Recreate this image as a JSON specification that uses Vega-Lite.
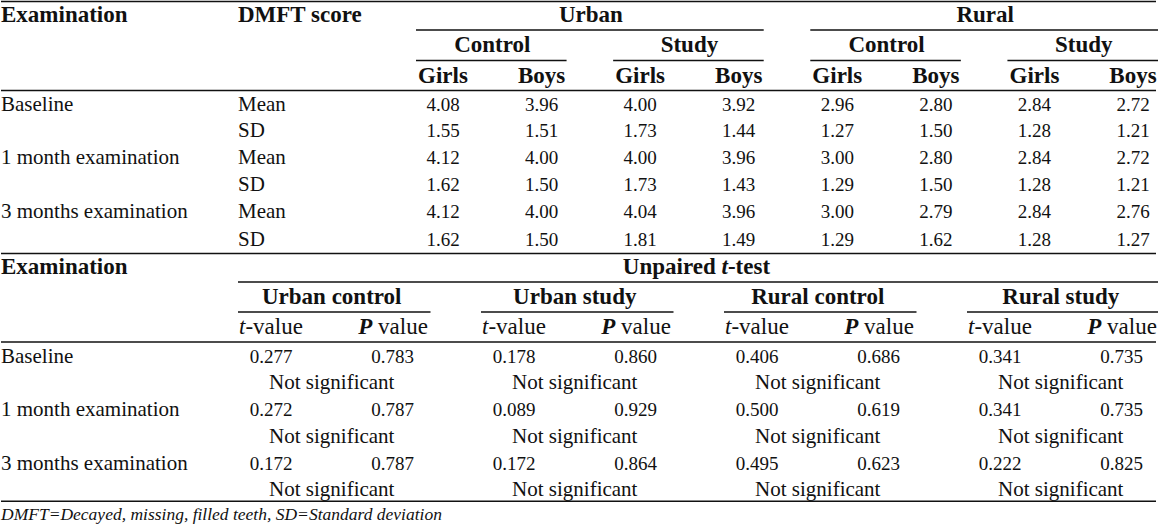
{
  "$schema": "https://vega.github.io/schema/vega-lite/v6.json",
  "width": 1158,
  "height": 526,
  "autosize": {"type": "fit", "contains": "padding"},
  "padding": 0,
  "background": "#ffffff",
  "config": {"font": "Liberation Serif", "view": {"stroke": null}, "text": {"font": "Liberation Serif", "color": "#111111", "baseline": "middle"}},
  "datasets": {
    "topHead": [
      {"r": 0, "c": 3.5, "t": "Urban"}, {"r": 0, "c": 7.5, "t": "Rural"},
      {"r": 1, "c": 2.5, "t": "Control"}, {"r": 1, "c": 4.5, "t": "Study"},
      {"r": 1, "c": 6.5, "t": "Control"}, {"r": 1, "c": 8.5, "t": "Study"},
      {"r": 2, "c": 2, "t": "Girls"}, {"r": 2, "c": 3, "t": "Boys"},
      {"r": 2, "c": 4, "t": "Girls"}, {"r": 2, "c": 5, "t": "Boys"},
      {"r": 2, "c": 6, "t": "Girls"}, {"r": 2, "c": 7, "t": "Boys"},
      {"r": 2, "c": 8, "t": "Girls"}, {"r": 2, "c": 9, "t": "Boys"}
    ],
    "leftBold": [
      {"r": 0, "c": 0, "t": "Examination"}, {"r": 0, "c": 1, "t": "DMFT score"},
      {"r": 9, "c": 0, "t": "Examination"}
    ],
    "leftText": [
      {"r": 3, "c": 0, "t": "Baseline"}, {"r": 3, "c": 1, "t": "Mean"}, {"r": 4, "c": 1, "t": "SD"},
      {"r": 5, "c": 0, "t": "1 month examination"}, {"r": 5, "c": 1, "t": "Mean"}, {"r": 6, "c": 1, "t": "SD"},
      {"r": 7, "c": 0, "t": "3 months examination"}, {"r": 7, "c": 1, "t": "Mean"}, {"r": 8, "c": 1, "t": "SD"},
      {"r": 12, "c": 0, "t": "Baseline"}, {"r": 14, "c": 0, "t": "1 month examination"},
      {"r": 16, "c": 0, "t": "3 months examination"}
    ],
    "topVals": [
      {"r": 3, "c": 2, "t": "4.08"}, {"r": 3, "c": 3, "t": "3.96"}, {"r": 3, "c": 4, "t": "4.00"}, {"r": 3, "c": 5, "t": "3.92"},
      {"r": 3, "c": 6, "t": "2.96"}, {"r": 3, "c": 7, "t": "2.80"}, {"r": 3, "c": 8, "t": "2.84"}, {"r": 3, "c": 9, "t": "2.72"},
      {"r": 4, "c": 2, "t": "1.55"}, {"r": 4, "c": 3, "t": "1.51"}, {"r": 4, "c": 4, "t": "1.73"}, {"r": 4, "c": 5, "t": "1.44"},
      {"r": 4, "c": 6, "t": "1.27"}, {"r": 4, "c": 7, "t": "1.50"}, {"r": 4, "c": 8, "t": "1.28"}, {"r": 4, "c": 9, "t": "1.21"},
      {"r": 5, "c": 2, "t": "4.12"}, {"r": 5, "c": 3, "t": "4.00"}, {"r": 5, "c": 4, "t": "4.00"}, {"r": 5, "c": 5, "t": "3.96"},
      {"r": 5, "c": 6, "t": "3.00"}, {"r": 5, "c": 7, "t": "2.80"}, {"r": 5, "c": 8, "t": "2.84"}, {"r": 5, "c": 9, "t": "2.72"},
      {"r": 6, "c": 2, "t": "1.62"}, {"r": 6, "c": 3, "t": "1.50"}, {"r": 6, "c": 4, "t": "1.73"}, {"r": 6, "c": 5, "t": "1.43"},
      {"r": 6, "c": 6, "t": "1.29"}, {"r": 6, "c": 7, "t": "1.50"}, {"r": 6, "c": 8, "t": "1.28"}, {"r": 6, "c": 9, "t": "1.21"},
      {"r": 7, "c": 2, "t": "4.12"}, {"r": 7, "c": 3, "t": "4.00"}, {"r": 7, "c": 4, "t": "4.04"}, {"r": 7, "c": 5, "t": "3.96"},
      {"r": 7, "c": 6, "t": "3.00"}, {"r": 7, "c": 7, "t": "2.79"}, {"r": 7, "c": 8, "t": "2.84"}, {"r": 7, "c": 9, "t": "2.76"},
      {"r": 8, "c": 2, "t": "1.62"}, {"r": 8, "c": 3, "t": "1.50"}, {"r": 8, "c": 4, "t": "1.81"}, {"r": 8, "c": 5, "t": "1.49"},
      {"r": 8, "c": 6, "t": "1.29"}, {"r": 8, "c": 7, "t": "1.62"}, {"r": 8, "c": 8, "t": "1.28"}, {"r": 8, "c": 9, "t": "1.27"}
    ],
    "topRules": [
      {"r": 0.5, "c1": 2, "c2": 5}, {"r": 0.5, "c1": 6, "c2": 9},
      {"r": 1.5, "c1": 2, "c2": 3}, {"r": 1.5, "c1": 4, "c2": 5},
      {"r": 1.5, "c1": 6, "c2": 7}, {"r": 1.5, "c1": 8, "c2": 9}
    ],
    "fullRules": [{"r": -0.45}, {"r": 2.5}, {"r": 8.5}, {"r": 11.5}, {"r": 17.45}],
    "botHead": [
      {"r": 10, "c": 1.5, "t": "Urban control"}, {"r": 10, "c": 3.5, "t": "Urban study"},
      {"r": 10, "c": 5.5, "t": "Rural control"}, {"r": 10, "c": 7.5, "t": "Rural study"}
    ],
    "unpaired": [{"r": 9, "c": 4.5}],
    "tAnchors": [{"r": 11, "c": 1}, {"r": 11, "c": 3}, {"r": 11, "c": 5}, {"r": 11, "c": 7}],
    "pAnchors": [{"r": 11, "c": 2}, {"r": 11, "c": 4}, {"r": 11, "c": 6}, {"r": 11, "c": 8}],
    "botVals": [
      {"r": 12, "c": 1, "t": "0.277"}, {"r": 12, "c": 2, "t": "0.783"}, {"r": 12, "c": 3, "t": "0.178"}, {"r": 12, "c": 4, "t": "0.860"},
      {"r": 12, "c": 5, "t": "0.406"}, {"r": 12, "c": 6, "t": "0.686"}, {"r": 12, "c": 7, "t": "0.341"}, {"r": 12, "c": 8, "t": "0.735"},
      {"r": 14, "c": 1, "t": "0.272"}, {"r": 14, "c": 2, "t": "0.787"}, {"r": 14, "c": 3, "t": "0.089"}, {"r": 14, "c": 4, "t": "0.929"},
      {"r": 14, "c": 5, "t": "0.500"}, {"r": 14, "c": 6, "t": "0.619"}, {"r": 14, "c": 7, "t": "0.341"}, {"r": 14, "c": 8, "t": "0.735"},
      {"r": 16, "c": 1, "t": "0.172"}, {"r": 16, "c": 2, "t": "0.787"}, {"r": 16, "c": 3, "t": "0.172"}, {"r": 16, "c": 4, "t": "0.864"},
      {"r": 16, "c": 5, "t": "0.495"}, {"r": 16, "c": 6, "t": "0.623"}, {"r": 16, "c": 7, "t": "0.222"}, {"r": 16, "c": 8, "t": "0.825"}
    ],
    "notSig": [
      {"r": 13, "c": 1.5, "t": "Not significant"}, {"r": 13, "c": 3.5, "t": "Not significant"},
      {"r": 13, "c": 5.5, "t": "Not significant"}, {"r": 13, "c": 7.5, "t": "Not significant"},
      {"r": 15, "c": 1.5, "t": "Not significant"}, {"r": 15, "c": 3.5, "t": "Not significant"},
      {"r": 15, "c": 5.5, "t": "Not significant"}, {"r": 15, "c": 7.5, "t": "Not significant"},
      {"r": 17, "c": 1.5, "t": "Not significant"}, {"r": 17, "c": 3.5, "t": "Not significant"},
      {"r": 17, "c": 5.5, "t": "Not significant"}, {"r": 17, "c": 7.5, "t": "Not significant"}
    ],
    "botRules": [
      {"r": 9.5, "c1": 1, "c2": 8},
      {"r": 10.5, "c1": 1, "c2": 2}, {"r": 10.5, "c1": 3, "c2": 4},
      {"r": 10.5, "c1": 5, "c2": 6}, {"r": 10.5, "c1": 7, "c2": 8}
    ],
    "note": [{"r": 18, "c": 0, "t": "DMFT=Decayed, missing, filled teeth, SD=Standard deviation"}]
  },
  "layer": [
    {
      "data": {"name": "fullRules"},
      "mark": {"type": "rule", "color": "#111111", "strokeWidth": 1.5},
      "encoding": {
        "y": {"field": "r", "type": "quantitative", "axis": null,
              "scale": {"domain": [0,1,2,3,4,5,6,7,8,9,10,11,12,13,14,15,16,17,18], "range": [15,45,76,105,131,158,185,212,240,267,297,327,357,383,410,437,464,490,515], "nice": false, "zero": false}}
      }
    },
    {
      "data": {"name": "topRules"},
      "mark": {"type": "rule", "color": "#111111", "strokeWidth": 1.5, "xOffset": -27, "x2Offset": 25},
      "encoding": {
        "x": {"field": "c1", "type": "quantitative", "axis": null, "scale": {"domain": [0,1,2,9], "range": [0,237,442,1132], "nice": false, "zero": false}},
        "x2": {"field": "c2"},
        "y": {"field": "r", "type": "quantitative", "axis": null}
      }
    },
    {
      "data": {"name": "botRules"},
      "mark": {"type": "rule", "color": "#111111", "strokeWidth": 1.5, "xOffset": -33, "x2Offset": 38},
      "encoding": {
        "x": {"field": "c1", "type": "quantitative", "axis": null, "scale": {"domain": [0,1,8], "range": [0,270,1120.5], "nice": false, "zero": false}},
        "x2": {"field": "c2"},
        "y": {"field": "r", "type": "quantitative", "axis": null}
      }
    },
    {
      "data": {"name": "topHead"},
      "mark": {"type": "text", "font": "Liberation Serif", "fontSize": 23, "fontWeight": "bold", "align": "center"},
      "encoding": {
        "x": {"field": "c", "type": "quantitative", "axis": null, "scale": {"domain": [0,1,2,9], "range": [0,237,442,1132], "nice": false, "zero": false}},
        "y": {"field": "r", "type": "quantitative", "axis": null},
        "text": {"field": "t"}
      }
    },
    {
      "data": {"name": "leftBold"},
      "mark": {"type": "text", "font": "Liberation Serif", "fontSize": 23, "fontWeight": "bold", "align": "left"},
      "encoding": {
        "x": {"field": "c", "type": "quantitative", "axis": null, "scale": {"domain": [0,1,2,9], "range": [0,237,442,1132], "nice": false, "zero": false}},
        "y": {"field": "r", "type": "quantitative", "axis": null},
        "text": {"field": "t"}
      }
    },
    {
      "data": {"name": "leftText"},
      "mark": {"type": "text", "font": "Liberation Serif", "fontSize": 21, "align": "left"},
      "encoding": {
        "x": {"field": "c", "type": "quantitative", "axis": null, "scale": {"domain": [0,1,2,9], "range": [0,237,442,1132], "nice": false, "zero": false}},
        "y": {"field": "r", "type": "quantitative", "axis": null},
        "text": {"field": "t"}
      }
    },
    {
      "data": {"name": "topVals"},
      "mark": {"type": "text", "font": "Liberation Serif", "fontSize": 19, "align": "center"},
      "encoding": {
        "x": {"field": "c", "type": "quantitative", "axis": null, "scale": {"domain": [0,1,2,9], "range": [0,237,442,1132], "nice": false, "zero": false}},
        "y": {"field": "r", "type": "quantitative", "axis": null},
        "text": {"field": "t"}
      }
    },
    {
      "data": {"name": "botHead"},
      "mark": {"type": "text", "font": "Liberation Serif", "fontSize": 23, "fontWeight": "bold", "align": "center"},
      "encoding": {
        "x": {"field": "c", "type": "quantitative", "axis": null, "scale": {"domain": [0,1,8], "range": [0,270,1120.5], "nice": false, "zero": false}},
        "y": {"field": "r", "type": "quantitative", "axis": null},
        "text": {"field": "t"}
      }
    },
    {
      "data": {"name": "unpaired"},
      "mark": {"type": "text", "font": "Liberation Serif", "fontSize": 23, "fontWeight": "bold", "align": "right", "dx": 19.5},
      "encoding": {
        "x": {"field": "c", "type": "quantitative", "axis": null, "scale": {"domain": [0,1,8], "range": [0,270,1120.5], "nice": false, "zero": false}},
        "y": {"field": "r", "type": "quantitative", "axis": null},
        "text": {"value": "Unpaired"}
      }
    },
    {
      "data": {"name": "unpaired"},
      "mark": {"type": "text", "font": "Liberation Serif", "fontSize": 23, "fontWeight": "bold", "fontStyle": "italic", "align": "left", "dx": 25.3},
      "encoding": {
        "x": {"field": "c", "type": "quantitative", "axis": null, "scale": {"domain": [0,1,8], "range": [0,270,1120.5], "nice": false, "zero": false}},
        "y": {"field": "r", "type": "quantitative", "axis": null},
        "text": {"value": "t"}
      }
    },
    {
      "data": {"name": "unpaired"},
      "mark": {"type": "text", "font": "Liberation Serif", "fontSize": 23, "fontWeight": "bold", "align": "left", "dx": 31.7},
      "encoding": {
        "x": {"field": "c", "type": "quantitative", "axis": null, "scale": {"domain": [0,1,8], "range": [0,270,1120.5], "nice": false, "zero": false}},
        "y": {"field": "r", "type": "quantitative", "axis": null},
        "text": {"value": "-test"}
      }
    },
    {
      "data": {"name": "tAnchors"},
      "mark": {"type": "text", "font": "Liberation Serif", "fontSize": 23, "fontStyle": "italic", "align": "right", "dx": -25.6},
      "encoding": {
        "x": {"field": "c", "type": "quantitative", "axis": null, "scale": {"domain": [0,1,8], "range": [0,270,1120.5], "nice": false, "zero": false}},
        "y": {"field": "r", "type": "quantitative", "axis": null},
        "text": {"value": "t"}
      }
    },
    {
      "data": {"name": "tAnchors"},
      "mark": {"type": "text", "font": "Liberation Serif", "fontSize": 23, "align": "left", "dx": -25.6},
      "encoding": {
        "x": {"field": "c", "type": "quantitative", "axis": null, "scale": {"domain": [0,1,8], "range": [0,270,1120.5], "nice": false, "zero": false}},
        "y": {"field": "r", "type": "quantitative", "axis": null},
        "text": {"value": "-value"}
      }
    },
    {
      "data": {"name": "pAnchors"},
      "mark": {"type": "text", "font": "Liberation Serif", "fontSize": 23, "fontWeight": "bold", "fontStyle": "italic", "align": "right", "dx": -20.1},
      "encoding": {
        "x": {"field": "c", "type": "quantitative", "axis": null, "scale": {"domain": [0,1,8], "range": [0,270,1120.5], "nice": false, "zero": false}},
        "y": {"field": "r", "type": "quantitative", "axis": null},
        "text": {"value": "P"}
      }
    },
    {
      "data": {"name": "pAnchors"},
      "mark": {"type": "text", "font": "Liberation Serif", "fontSize": 23, "align": "left", "dx": -14.4},
      "encoding": {
        "x": {"field": "c", "type": "quantitative", "axis": null, "scale": {"domain": [0,1,8], "range": [0,270,1120.5], "nice": false, "zero": false}},
        "y": {"field": "r", "type": "quantitative", "axis": null},
        "text": {"value": "value"}
      }
    },
    {
      "data": {"name": "botVals"},
      "mark": {"type": "text", "font": "Liberation Serif", "fontSize": 19, "align": "center"},
      "encoding": {
        "x": {"field": "c", "type": "quantitative", "axis": null, "scale": {"domain": [0,1,8], "range": [0,270,1120.5], "nice": false, "zero": false}},
        "y": {"field": "r", "type": "quantitative", "axis": null},
        "text": {"field": "t"}
      }
    },
    {
      "data": {"name": "notSig"},
      "mark": {"type": "text", "font": "Liberation Serif", "fontSize": 21, "align": "center"},
      "encoding": {
        "x": {"field": "c", "type": "quantitative", "axis": null, "scale": {"domain": [0,1,8], "range": [0,270,1120.5], "nice": false, "zero": false}},
        "y": {"field": "r", "type": "quantitative", "axis": null},
        "text": {"field": "t"}
      }
    },
    {
      "data": {"name": "note"},
      "mark": {"type": "text", "font": "Liberation Serif", "fontSize": 17.5, "fontStyle": "italic", "align": "left"},
      "encoding": {
        "x": {"field": "c", "type": "quantitative", "axis": null, "scale": {"domain": [0,1,8], "range": [0,270,1120.5], "nice": false, "zero": false}},
        "y": {"field": "r", "type": "quantitative", "axis": null},
        "text": {"field": "t"}
      }
    }
  ],
  "resolve": {"scale": {"x": "independent"}}
}
